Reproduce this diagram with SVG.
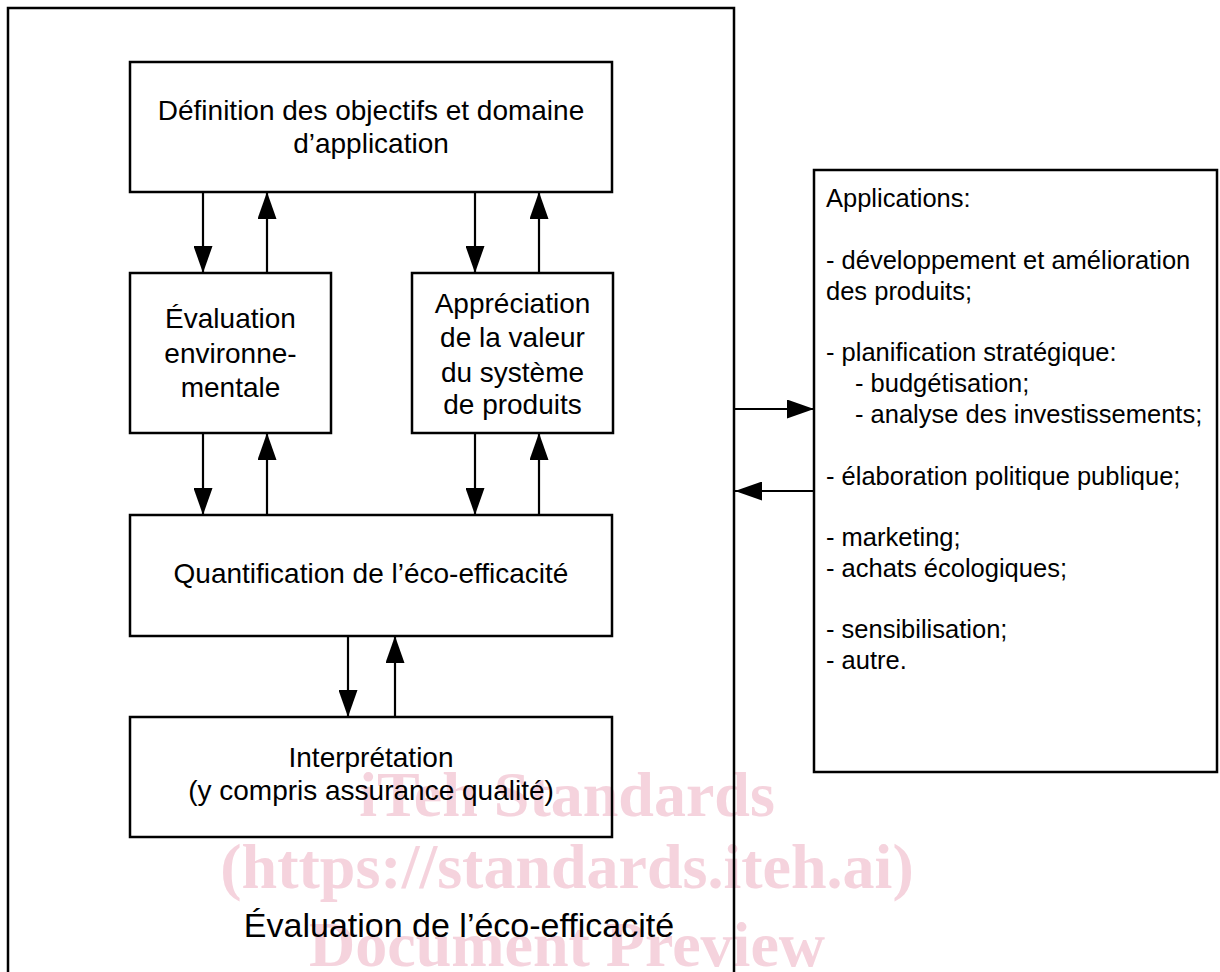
<svg xmlns="http://www.w3.org/2000/svg" width="1220" height="972" viewBox="0 0 1220 972">
<style>
.box{fill:none;stroke:#000;stroke-width:2.5}
.ln{fill:none;stroke:#000;stroke-width:2.2}
.t{font-family:"Liberation Sans",Arial,sans-serif;font-size:28px;fill:#000;text-anchor:middle}
.r{font-family:"Liberation Sans",Arial,sans-serif;font-size:25.5px;fill:#000}
.big{font-family:"Liberation Sans",Arial,sans-serif;font-size:34px;fill:#000;text-anchor:middle}
.wm{font-family:"Liberation Serif","Times New Roman",serif;font-weight:bold;font-size:64px;fill:#f5d3dd;text-anchor:middle}
</style>
<defs>
<marker id="ah" viewBox="0 0 27 19" refX="27" refY="9.5" markerWidth="27" markerHeight="19" markerUnits="userSpaceOnUse" orient="auto">
<path d="M0,0 L27,9.5 L0,19 z" fill="#000"/>
</marker>
</defs>
<rect width="1220" height="972" fill="#fff"/>
<g id="watermark">
<text class="wm" x="567" y="816">iTeh Standards</text>
<text class="wm" x="567" y="888">(https://standards.iteh.ai)</text>
<text class="wm" x="567" y="966">Document Preview</text>
</g>
<g id="outer">
<path class="box" d="M8,990 V8 H734 V990"/>
<text class="big" x="459" y="937">Évaluation de l’éco-efficacité</text>
</g>
<g id="definition">
<rect class="box" x="130" y="62" width="482" height="130"/>
<text class="t" x="371" y="120">Définition des objectifs et domaine</text>
<text class="t" x="371" y="153">d’application</text>
</g>
<g id="evaluation-env">
<rect class="box" x="130" y="273" width="201" height="160"/>
<text class="t" x="230.5" y="328">Évaluation</text>
<text class="t" x="230.5" y="363">environne-</text>
<text class="t" x="230.5" y="397">mentale</text>
</g>
<g id="appreciation">
<rect class="box" x="412" y="273" width="201" height="160"/>
<text class="t" x="512.5" y="313">Appréciation</text>
<text class="t" x="512.5" y="347">de la valeur</text>
<text class="t" x="512.5" y="382">du système</text>
<text class="t" x="512.5" y="414">de produits</text>
</g>
<g id="quantification">
<rect class="box" x="130" y="515" width="482" height="121"/>
<text class="t" x="371" y="583">Quantification de l’éco-efficacité</text>
</g>
<g id="interpretation">
<rect class="box" x="130" y="717" width="482" height="120"/>
<text class="t" x="371" y="767">Interprétation</text>
<text class="t" x="371" y="800">(y compris assurance qualité)</text>
</g>
<g id="applications">
<rect class="box" x="814" y="170" width="403" height="602"/>
<text class="r" x="826" y="207">Applications:</text>
<text class="r" x="826" y="269">- développement et amélioration</text>
<text class="r" x="826" y="300">des produits;</text>
<text class="r" x="826" y="361">- planification stratégique:</text>
<text class="r" x="855" y="392">- budgétisation;</text>
<text class="r" x="855" y="423">- analyse des investissements;</text>
<text class="r" x="826" y="485">- élaboration politique publique;</text>
<text class="r" x="826" y="546">- marketing;</text>
<text class="r" x="826" y="577">- achats écologiques;</text>
<text class="r" x="826" y="638">- sensibilisation;</text>
<text class="r" x="826" y="669">- autre.</text>
</g>
<g id="connectors">
<line class="ln" x1="203" y1="192" x2="203" y2="273" marker-end="url(#ah)"/>
<line class="ln" x1="267" y1="273" x2="267" y2="192" marker-end="url(#ah)"/>
<line class="ln" x1="475" y1="192" x2="475" y2="273" marker-end="url(#ah)"/>
<line class="ln" x1="539" y1="273" x2="539" y2="192" marker-end="url(#ah)"/>
<line class="ln" x1="203" y1="433" x2="203" y2="515" marker-end="url(#ah)"/>
<line class="ln" x1="267" y1="515" x2="267" y2="433" marker-end="url(#ah)"/>
<line class="ln" x1="475" y1="433" x2="475" y2="515" marker-end="url(#ah)"/>
<line class="ln" x1="539" y1="515" x2="539" y2="433" marker-end="url(#ah)"/>
<line class="ln" x1="348" y1="636" x2="348" y2="717" marker-end="url(#ah)"/>
<line class="ln" x1="395" y1="717" x2="395" y2="636" marker-end="url(#ah)"/>
<line class="ln" x1="734" y1="409" x2="814" y2="409" marker-end="url(#ah)"/>
<line class="ln" x1="814" y1="491" x2="735" y2="491" marker-end="url(#ah)"/>
</g>
</svg>
